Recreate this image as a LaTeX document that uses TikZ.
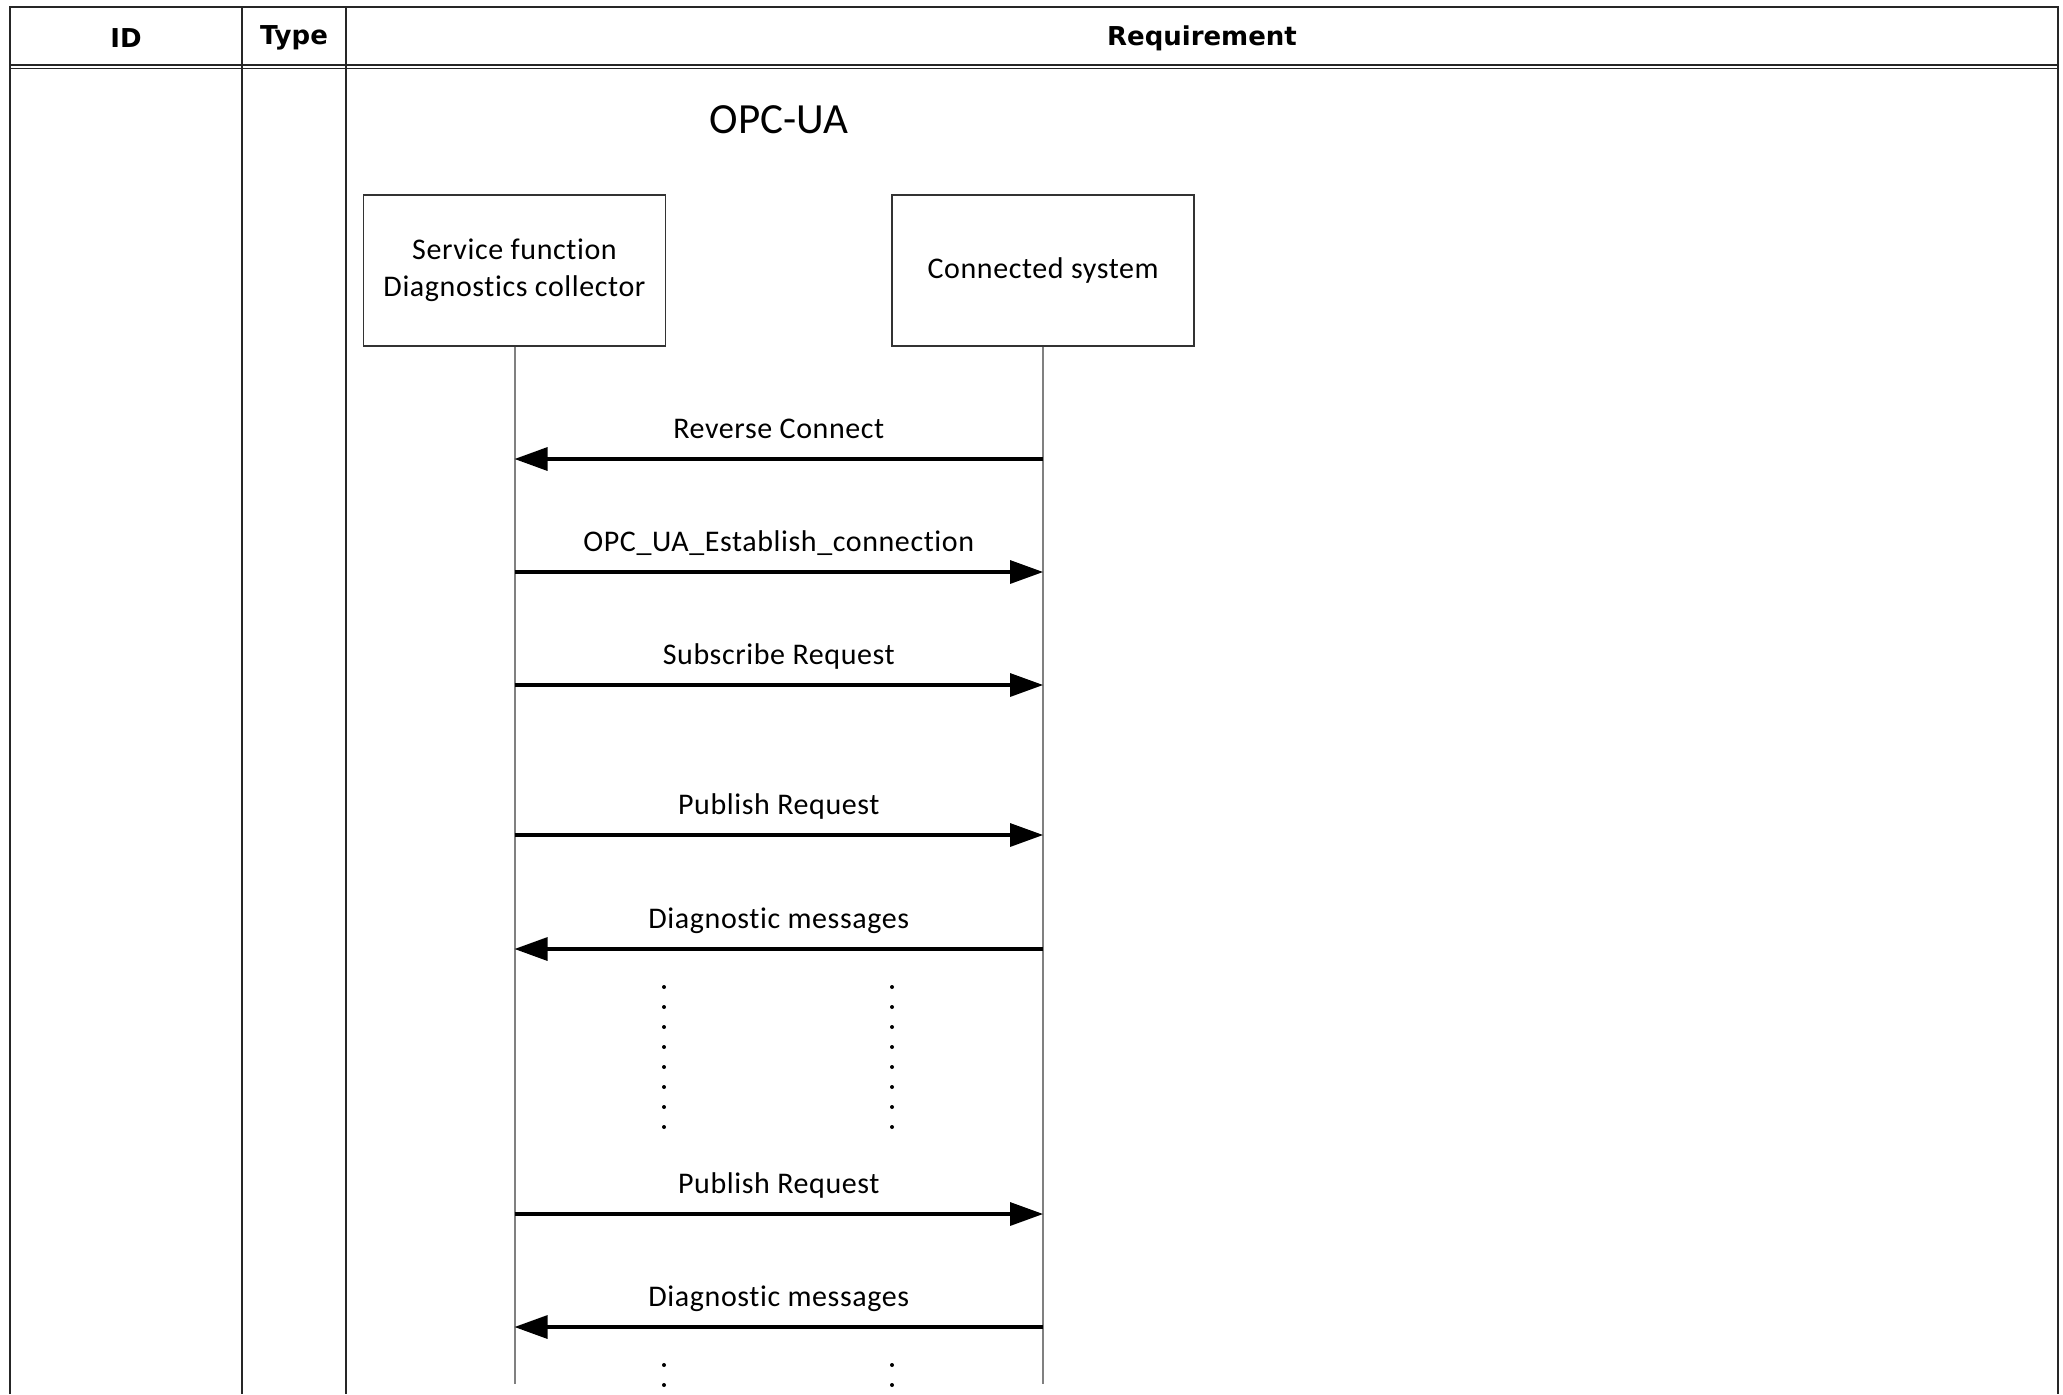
\documentclass[tikz,border=0pt]{standalone}
\usepackage{fontspec}
\setmainfont{Carlito}
\newfontfamily\lblfont{Carlito}[LetterSpace=2.0, Ligatures=NoCommon]
\newfontfamily\hdrfont{DejaVu Sans}
\usetikzlibrary{positioning,arrows.meta}

\begin{document}
\begin{tikzpicture}[x=0.5pt, y=-0.5pt, >={Triangle[length=16.5pt,width=11.5pt]},
	node distance=112.5pt,
	actor/.style={rectangle, draw=black!80, line width=0.8pt, minimum width=151pt, minimum height=75.5pt, align=center, font=\lblfont\fontsize{15}{18.5}\selectfont},
	hdr/.style={font=\hdrfont\bfseries\fontsize{13}{15}\selectfont},
	life/.style={draw=black!50, line width=1pt},
	msg/.style={->, line width=1.6pt},
	lbl/.style={anchor=base, yshift=10.5pt, font=\lblfont\fontsize{15}{18}\selectfont},
	grid/.style={draw=black!85, line width=0.8pt}]
	\useasboundingbox (0,0) rectangle (2063,1394);
	% table frame
	\draw[grid] (10,1394) -- (10,7) -- (2058,7) -- (2058,1394);
	\draw[grid] (10,65) -- (2058,65);
	\draw[grid] (10,68.5) -- (2058,68.5);
	\draw[grid] (242,7) -- (242,1394);
	\draw[grid] (346,7) -- (346,1394);
	\node[hdr] (hid) at (126,38) {ID};
	\node[hdr] (htype) at (294,38) {Type};
	\node[hdr] (hreq) at (1202,38) {Requirement};
	
	% sequence
	\node[actor] (sf) at (514.5,270.5) {Service function\\Diagnostics collector};
	\node[actor] (cs) [right=of sf] {Connected system};
	\node[font=\fontsize{21.5}{24}\selectfont] (opc) at (779,120) {OPC-UA};
	
	\coordinate (bot) at (0,1384);
	\draw[life] (sf.south) -- (sf.south |- bot);
	\draw[life] (cs.south) -- (cs.south |- bot);
	
	\coordinate (r1) at (0,459);
	\coordinate (r2) at (0,572);
	\coordinate (r3) at (0,685);
	\coordinate (r4) at (0,835);
	\coordinate (r5) at (0,949);
	\coordinate (r6) at (0,1214);
	\coordinate (r7) at (0,1327);
	\draw[msg] (cs.south |- r1) -- (sf.south |- r1) node[lbl, midway] {Reverse Connect};
	\draw[msg] (sf.south |- r2) -- (cs.south |- r2) node[lbl, midway] {OPC\_UA\_Establish\_connection};
	\draw[msg] (sf.south |- r3) -- (cs.south |- r3) node[lbl, midway] {Subscribe Request};
	\draw[msg] (sf.south |- r4) -- (cs.south |- r4) node[lbl, midway] {Publish Request};
	\draw[msg] (cs.south |- r5) -- (sf.south |- r5) node[lbl, midway] {Diagnostic messages};
	\draw[msg] (sf.south |- r6) -- (cs.south |- r6) node[lbl, midway] {Publish Request};
	\draw[msg] (cs.south |- r7) -- (sf.south |- r7) node[lbl, midway] {Diagnostic messages};
	
	% dots
	\foreach \y in {987,1007,...,1127,1365,1385} {
		\fill (664,\y) circle (1pt);
		\fill (892,\y) circle (1pt);
	}
\end{tikzpicture}
\end{document}
